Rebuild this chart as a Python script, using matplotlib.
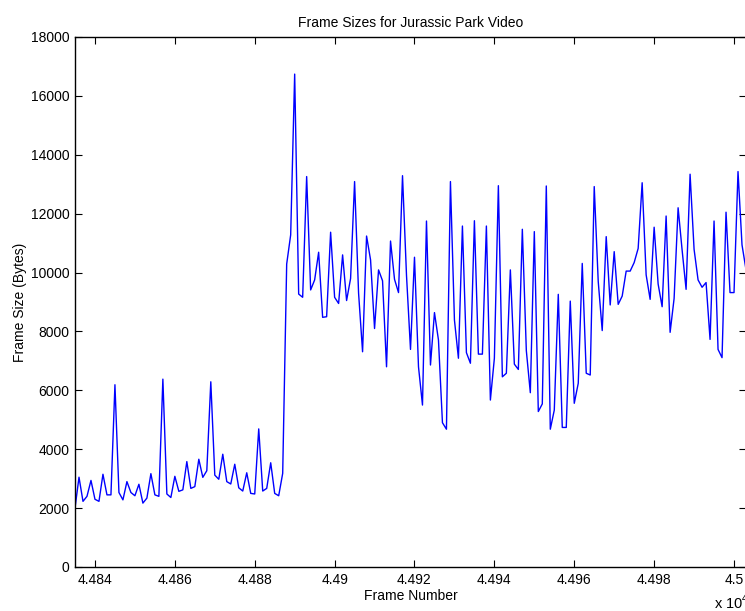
import numpy as np
import matplotlib
matplotlib.use("Agg")
import matplotlib.pyplot as plt
from matplotlib.ticker import FuncFormatter, MultipleLocator

plt.rcParams['font.family'] = ['Liberation Sans', 'DejaVu Sans']
plt.rcParams['mathtext.fontset'] = 'custom'
plt.rcParams['mathtext.rm'] = 'Liberation Sans'

start_frame = 44835
frame_sizes = [
    2000, 3050, 2230, 2400, 2940, 2300, 2230, 3150, 2450, 2450,
    6190, 2530, 2280, 2900, 2530, 2420, 2810, 2170, 2340, 3170,
    2450, 2400, 6380, 2480, 2360, 3080, 2570, 2620, 3580, 2670,
    2730, 3660, 3045, 3270, 6290, 3120, 2980, 3830, 2900, 2820,
    3490, 2690, 2580, 3200, 2500, 2480, 4690, 2580, 2670, 3540,
    2500, 2420, 3180, 10290, 11280, 16740, 9270, 9160, 13260, 9410,
    9750, 10690, 8480, 8500, 11370, 9160, 8950, 10600, 9050, 9800,
    13090, 9300, 7310, 11240, 10430, 8100, 10090, 9720, 6800, 11070,
    9770, 9320, 13290, 9900, 7390, 10520, 6800, 5500, 11750, 6860,
    8640, 7710, 4900, 4680, 13090, 8390, 7090, 11580, 7280, 6920,
    11760, 7230, 7230, 11580, 5670, 7090, 12950, 6460, 6580, 10090,
    6890, 6710, 11470, 7350, 5920, 11390, 5280, 5540, 12940, 4680,
    5330, 9260, 4740, 4740, 9030, 5560, 6240, 10310, 6580, 6520,
    12920, 9700, 8030, 11220, 8900, 10710, 8920, 9200, 10050, 10050,
    10340, 10820, 13050, 9920, 9090, 11540, 9610, 8840, 11920, 7970,
    9120, 12200, 10770, 9430, 13340, 10790, 9750, 9500, 9660, 7730,
    11750, 7390, 7110, 12050, 9320, 9320, 13430, 10940, 10100,
]
frames = np.arange(start_frame, start_frame + len(frame_sizes))

W, H = 745, 611
fig = plt.figure(figsize=(W / 100, H / 100), dpi=100)
fig.patch.set_facecolor('white')
left, right, top, bottom = 75, 746, 37, 567
ax = fig.add_axes([left / W, 1 - bottom / H, (right - left) / W, (bottom - top) / H])

ax.plot(frames, frame_sizes, color=(0, 0, 1), lw=1.0)

ax.set_xlim(frames[0], frames[-1])
ax.set_ylim(0, 18000)
ax.xaxis.set_major_locator(MultipleLocator(20))
ax.yaxis.set_major_locator(MultipleLocator(2000))
ax.xaxis.set_major_formatter(FuncFormatter(lambda v, p: f"{v / 1e4:g}"))
ax.yaxis.set_major_formatter(FuncFormatter(lambda v, p: f"{int(v)}"))

ax.tick_params(direction='in', length=5, width=0.8, top=True, right=True,
               labelsize=10, pad=4, colors='black')
for s in ax.spines.values():
    s.set_linewidth(1.0)
    s.set_color('black')

ax.set_title("Frame Sizes for Jurassic Park Video", fontsize=10, pad=7)
ax.set_xlabel("Frame Number", fontsize=10, labelpad=2)
ax.set_ylabel("Frame Size (Bytes)", fontsize=10, labelpad=3)

fig.text(714 / W, 1 - 612 / H, r"x 10$^{4}$", fontsize=10.5, ha='left', va='bottom')

fig.savefig("out.png", dpi=100, facecolor='white')
